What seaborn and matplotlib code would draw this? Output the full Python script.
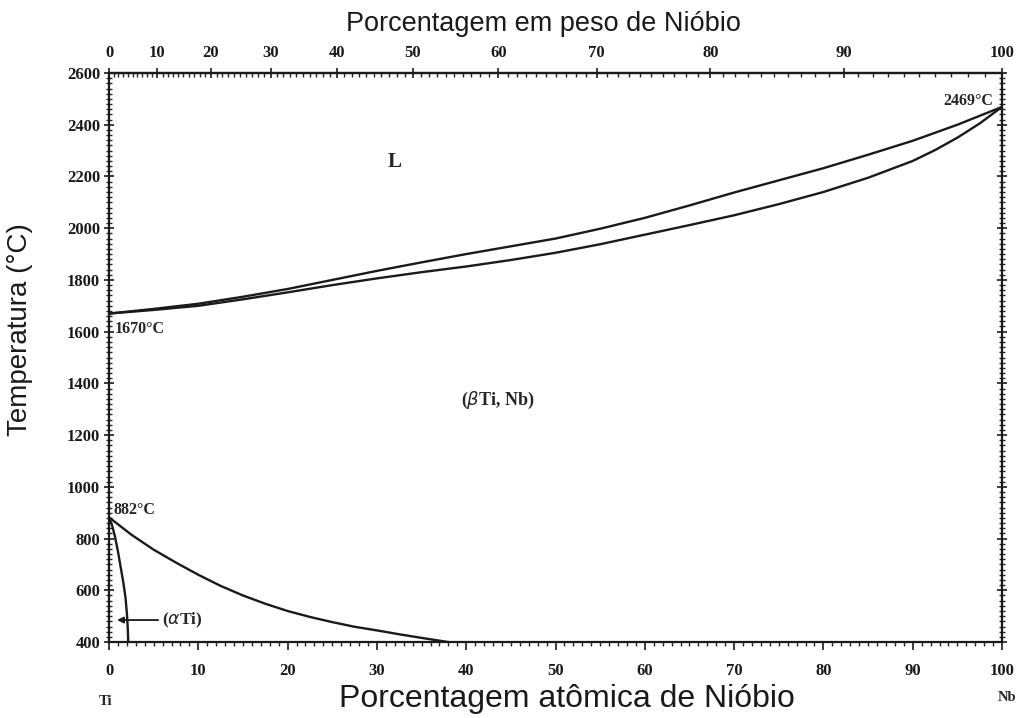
import numpy as np
import pandas as pd
import matplotlib
matplotlib.use("Agg")
import matplotlib.pyplot as plt
from matplotlib.ticker import MultipleLocator
import seaborn as sns

# Liquidus (upper) and solidus (lower) of the Ti-Nb system, atomic % Nb vs °C
liq_at = [0, 5, 10, 15, 20, 25, 30, 35, 40, 45, 50, 55, 60, 65, 70, 75, 80, 85, 90, 95, 100]
liq_T = [1670, 1688, 1708, 1735, 1765, 1800, 1835, 1868, 1900, 1930, 1960, 1998, 2040, 2088, 2138, 2185, 2232, 2284, 2338, 2400, 2469]
sol_at = [0, 5, 10, 15, 20, 25, 30, 35, 40, 45, 50, 55, 60, 65, 70, 75, 80, 85, 90, 92.5, 95, 97.5, 100]
sol_T = [1670, 1684, 1700, 1725, 1752, 1780, 1806, 1830, 1852, 1877, 1905, 1938, 1975, 2012, 2050, 2093, 2140, 2195, 2260, 2302, 2350, 2405, 2469]

# beta transus and alpha solvus
beta_at = [0, 2.5, 5, 7.5, 10, 12.5, 15, 17.5, 20, 22.5, 25, 27.5, 30, 32.5, 35, 38]
beta_T = [882, 815, 757, 707, 660, 617, 580, 548, 520, 497, 477, 459, 445, 430, 416, 400]
alpha_at = [0, 0.35, 0.65, 1.0, 1.3, 1.6, 1.85, 2.0, 2.1, 2.15]
alpha_T = [882, 850, 810, 750, 690, 630, 570, 510, 450, 400]

x_ticks = list(range(0, 101, 10))
y_ticks = list(range(400, 2601, 200))
wt_ticks = list(range(0, 101, 10))

M_TI, M_NB = 47.867, 92.906


def at_to_wt(a):
    a = np.clip(np.asarray(a, dtype=float), 0, 100)
    return 100 * a * M_NB / (a * M_NB + (100 - a) * M_TI)


def wt_to_at(w):
    w = np.clip(np.asarray(w, dtype=float), 0, 100)
    return 100 * (w / M_NB) / (w / M_NB + (100 - w) / M_TI)


sns.set_theme(style="white")
plt.rcParams["font.family"] = ["Liberation Sans", "DejaVu Sans"]

fig = plt.figure(figsize=(10.21, 7.18), dpi=100)
ax = fig.add_axes([0.1068, 0.1058, 0.8746, 0.7925])

line_kw = dict(color="#1a1a1a", linewidth=1.7, sort=False, estimator=None, ax=ax)
sns.lineplot(x=liq_at, y=liq_T, **line_kw)
sns.lineplot(x=sol_at, y=sol_T, **line_kw)
sns.lineplot(x=beta_at, y=beta_T, **line_kw)
sns.lineplot(x=alpha_at, y=alpha_T, **line_kw)

ax.set_xlim(0, 100)
ax.set_ylim(400, 2600)
for s in ax.spines.values():
    s.set_color("#1a1a1a")
    s.set_linewidth(1.6)

serif_bold = dict(family=["Liberation Serif", "DejaVu Serif"], fontweight="bold")
TICK_FS = 12

ax.set_xticks(x_ticks)
ax.set_yticks(y_ticks)
ax.xaxis.set_minor_locator(MultipleLocator(1))
ax.yaxis.set_minor_locator(MultipleLocator(20))
ax.tick_params(axis="x", which="major", direction="out", length=6, width=1.2,
               bottom=True, top=False, pad=9, colors="#1a1a1a")
ax.tick_params(axis="x", which="minor", direction="out", length=3, width=1,
               bottom=True, top=False)
ax.tick_params(axis="y", which="major", direction="inout", length=7, width=1.2,
               left=True, right=True, pad=3, colors="#1a1a1a")
ax.tick_params(axis="y", which="minor", direction="inout", length=4, width=1,
               left=True, right=True)
for lbl in ax.get_xticklabels() + ax.get_yticklabels():
    lbl.set_fontfamily(["Liberation Serif", "DejaVu Serif"])
    lbl.set_fontweight("bold")
    lbl.set_fontsize(TICK_FS)

# weight % scale on top
sec = ax.secondary_xaxis("top", functions=(at_to_wt, wt_to_at))
sec.set_xticks(wt_ticks)
sec.xaxis.set_minor_locator(MultipleLocator(1))
sec.tick_params(which="major", direction="inout", length=7, width=1.2, pad=5, colors="#1a1a1a")
sec.tick_params(which="minor", direction="in", length=3, width=1)
sec.spines["top"].set_linewidth(1.6)
for lbl in sec.get_xticklabels():
    lbl.set_fontfamily(["Liberation Serif", "DejaVu Serif"])
    lbl.set_fontweight("bold")
    lbl.set_fontsize(TICK_FS)
fig.text(0.532, 0.967, "Porcentagem em peso de Nióbio", fontsize=19.5, color="#1a1a1a",
         ha="center", va="center")

ax.set_xlabel("Porcentagem atômica de Nióbio", fontsize=23, color="#1a1a1a")
ax.xaxis.set_label_coords(0.513, -0.074)
ax.set_ylabel("Temperatura (°C)", fontsize=20, color="#1a1a1a")
ax.yaxis.set_label_coords(-0.085, 0.55)

# element labels under the end ticks
trans = matplotlib.transforms.blended_transform_factory(ax.transData, ax.transAxes)
ax.text(-0.4, -0.105, "Ti", transform=trans, ha="center", va="center", fontsize=10.5, **serif_bold)
ax.text(100.6, -0.097, "Nb", transform=trans, ha="center", va="center", fontsize=10.5, **serif_bold)

# phase-field labels and invariant temperatures
ax.text(32, 2256, "L", ha="center", va="center", fontsize=15, **serif_bold)
ax.text(43.5, 1336, r"($\beta$Ti, Nb)", ha="center", va="center", fontsize=13, **serif_bold)
ax.text(0.5, 912, "882°C", ha="left", va="center", fontsize=11.5, **serif_bold)
ax.text(0.6, 1612, "1670°C", ha="left", va="center", fontsize=11.5, **serif_bold)
ax.text(99.0, 2490, "2469°C", ha="right", va="center", fontsize=11.5, **serif_bold)
ax.text(5.9, 485, r"($\alpha$Ti)", ha="left", va="center", fontsize=12.5, **serif_bold)
ax.annotate("", xy=(0.9, 485), xytext=(5.5, 485),
            arrowprops=dict(arrowstyle="-|>", color="#1a1a1a", lw=1.3,
                            mutation_scale=9, shrinkA=0, shrinkB=0))

fig.savefig("out.png", dpi=100, facecolor="white")
